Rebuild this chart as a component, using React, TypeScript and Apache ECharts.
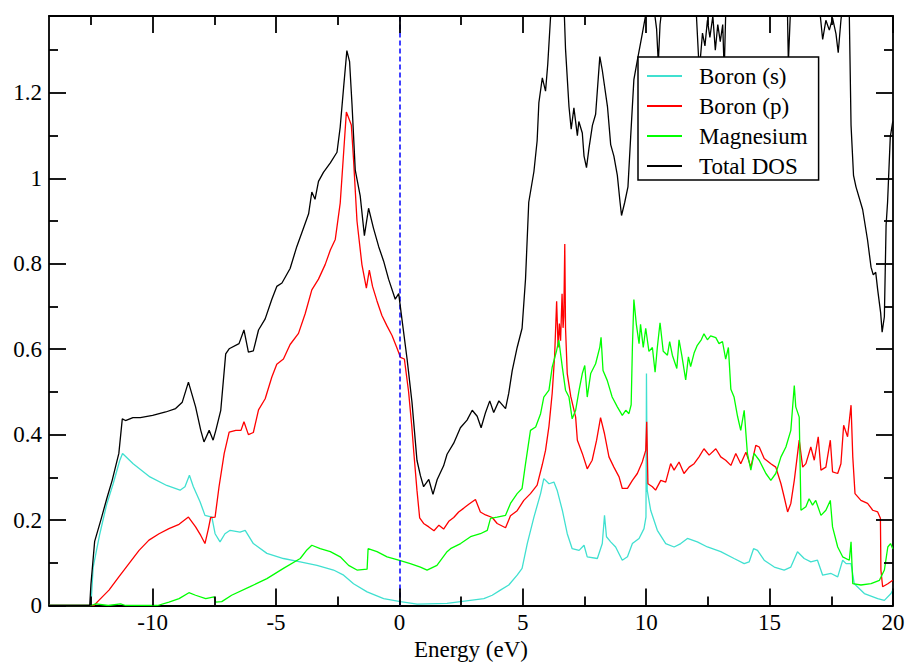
import React, { useEffect, useRef } from "react";
import * as echarts from "echarts";

const seriesNames = ["Boron (s)", "Boron (p)", "Magnesium", "Total DOS"];
const seriesColors = ["#40e0d0", "#ff0000", "#00ff00", "#000000"];
const xMajorTicks = [-10, -5, 0, 5, 10, 15, 20];
const xMinorTicks = [-12.5, -7.5, -2.5, 2.5, 7.5, 12.5, 17.5];
const yMajorTicks = [0, 0.2, 0.4, 0.6, 0.8, 1, 1.2];
const yMinorTicks = [0.1, 0.3, 0.5, 0.7, 0.9, 1.1, 1.3];
const fermiLevel = 0;
const xTitle = "Energy (eV)";

const boronS: number[][] = [
  [-14.2, 0], [-12.52, 0], [-12.48, 0.02], [-12.41, 0.09], [-12.14, 0.168], [-11.87, 0.235], [-11.6, 0.285],
  [-11.33, 0.34], [-11.22, 0.356], [-10.79, 0.332], [-10.11, 0.301], [-9.43, 0.281], [-8.89, 0.27], [-8.69, 0.278],
  [-8.51, 0.305], [-8.35, 0.278], [-8.08, 0.243], [-7.88, 0.211], [-7.6, 0.207], [-7.47, 0.168], [-7.27, 0.149],
  [-7.07, 0.168], [-6.86, 0.176], [-6.46, 0.172], [-6.25, 0.176], [-5.92, 0.145], [-5.37, 0.122], [-4.7, 0.11],
  [-4.02, 0.102], [-3.34, 0.094], [-2.67, 0.083], [-2.26, 0.071], [-1.86, 0.051], [-1.31, 0.032], [-0.64, 0.016],
  [0.04, 0.009], [0.72, 0.003], [1.93, 0.005], [3.42, 0.016], [3.76, 0.024], [4.09, 0.036], [4.43, 0.048],
  [4.77, 0.071], [4.97, 0.087], [5.18, 0.145], [5.45, 0.207], [5.72, 0.262], [5.85, 0.297], [6.06, 0.285],
  [6.26, 0.289], [6.39, 0.27], [6.6, 0.223], [6.8, 0.168], [7.0, 0.133], [7.28, 0.129], [7.48, 0.141], [7.61, 0.114],
  [8.02, 0.11], [8.22, 0.145], [8.31, 0.211], [8.39, 0.161], [8.56, 0.149], [8.76, 0.137], [9.03, 0.106],
  [9.24, 0.114], [9.44, 0.145], [9.71, 0.157], [9.91, 0.18], [9.99, 0.207], [10.01, 0.543], [10.04, 0.27],
  [10.18, 0.223], [10.45, 0.176], [10.79, 0.145], [11.13, 0.137], [11.4, 0.145], [11.67, 0.157], [12.07, 0.149],
  [12.48, 0.137], [13.02, 0.126], [13.56, 0.11], [13.97, 0.098], [14.17, 0.102], [14.35, 0.133], [14.51, 0.129],
  [14.78, 0.106], [15.19, 0.09], [15.59, 0.083], [15.86, 0.09], [16.13, 0.126], [16.4, 0.11], [16.67, 0.102],
  [16.94, 0.106], [17.15, 0.071], [17.49, 0.075], [17.76, 0.067], [17.96, 0.106], [18.1, 0.098], [18.3, 0.098],
  [18.43, 0.051], [18.84, 0.028], [19.38, 0.016], [19.65, 0.012], [19.92, 0.028], [19.99, 0.036],
];

const boronP: number[][] = [
  [-14.2, 0], [-12.38, 0], [-12.18, 0.012], [-11.77, 0.036], [-11.37, 0.067], [-10.96, 0.098], [-10.55, 0.129],
  [-10.15, 0.153], [-9.74, 0.168], [-9.34, 0.18], [-8.93, 0.19], [-8.55, 0.207], [-8.26, 0.184], [-8.05, 0.164],
  [-7.88, 0.145], [-7.74, 0.18], [-7.65, 0.206], [-7.47, 0.207], [-7.31, 0.278], [-7.1, 0.356], [-6.9, 0.406],
  [-6.63, 0.41], [-6.42, 0.41], [-6.3, 0.43], [-6.12, 0.4], [-5.92, 0.405], [-5.71, 0.458], [-5.44, 0.484],
  [-5.17, 0.535], [-4.97, 0.565], [-4.7, 0.577], [-4.43, 0.611], [-4.09, 0.637], [-3.82, 0.683], [-3.55, 0.739],
  [-3.28, 0.764], [-3.01, 0.798], [-2.8, 0.832], [-2.6, 0.857], [-2.4, 0.942], [-2.26, 1.061], [-2.15, 1.155],
  [-2.06, 1.142], [-1.95, 1.125], [-1.86, 1.044], [-1.72, 0.9], [-1.52, 0.798], [-1.34, 0.743], [-1.22, 0.785],
  [-1.09, 0.747], [-0.91, 0.713], [-0.71, 0.679], [-0.5, 0.654], [-0.3, 0.632], [-0.1, 0.603], [0.04, 0.581],
  [0.2, 0.577], [0.37, 0.501], [0.5, 0.42], [0.58, 0.36], [0.71, 0.27], [0.82, 0.205], [0.98, 0.192], [1.19, 0.184],
  [1.4, 0.175], [1.6, 0.188], [1.79, 0.179], [2.0, 0.197], [2.2, 0.206], [2.4, 0.219], [2.61, 0.228], [2.81, 0.237],
  [3.08, 0.248], [3.28, 0.219], [3.49, 0.212], [3.76, 0.206], [3.96, 0.192], [4.3, 0.182], [4.5, 0.21],
  [4.77, 0.222], [5.04, 0.246], [5.31, 0.262], [5.58, 0.282], [5.79, 0.33], [5.92, 0.363], [6.06, 0.42],
  [6.19, 0.497], [6.29, 0.586], [6.37, 0.712], [6.43, 0.604], [6.48, 0.66], [6.53, 0.62], [6.59, 0.73],
  [6.63, 0.65], [6.66, 0.676], [6.7, 0.846], [6.73, 0.65], [6.8, 0.543], [6.94, 0.49], [7.14, 0.441],
  [7.21, 0.387], [7.41, 0.356], [7.61, 0.32], [7.81, 0.34], [7.99, 0.387], [8.15, 0.44], [8.31, 0.402],
  [8.49, 0.348], [8.69, 0.324], [8.9, 0.301], [9.03, 0.274], [9.24, 0.274], [9.44, 0.293], [9.64, 0.309],
  [9.84, 0.336], [9.98, 0.363], [10.02, 0.43], [10.07, 0.285], [10.25, 0.278], [10.38, 0.27], [10.59, 0.293],
  [10.79, 0.289], [10.99, 0.332], [11.13, 0.317], [11.33, 0.336], [11.53, 0.309], [11.74, 0.324], [11.94, 0.332],
  [12.14, 0.348], [12.34, 0.367], [12.55, 0.352], [12.82, 0.367], [13.02, 0.348], [13.22, 0.34], [13.43, 0.328],
  [13.63, 0.356], [13.83, 0.332], [14.04, 0.359], [14.24, 0.324], [14.44, 0.375], [14.58, 0.371], [14.78, 0.344],
  [15.05, 0.332], [15.25, 0.324], [15.46, 0.285], [15.59, 0.254], [15.73, 0.219], [15.86, 0.239], [16.0, 0.293],
  [16.2, 0.387], [16.34, 0.324], [16.47, 0.332], [16.67, 0.371], [16.81, 0.34], [16.97, 0.395], [17.08, 0.317],
  [17.28, 0.324], [17.46, 0.387], [17.55, 0.313], [17.76, 0.309], [17.89, 0.332], [18.0, 0.422], [18.16, 0.395],
  [18.3, 0.469], [18.37, 0.348], [18.46, 0.262], [18.7, 0.246], [18.97, 0.239], [19.18, 0.223], [19.38, 0.219],
  [19.49, 0.204], [19.51, 0.083], [19.58, 0.044], [19.79, 0.051], [19.99, 0.059],
];

const magnesium: number[][] = [
  [-14.2, 0], [-12.5, 0], [-12.3, 0.004], [-11.8, 0], [-11.3, 0.004], [-11.1, 0], [-9.8, 0], [-9.34, 0.008],
  [-8.93, 0.016], [-8.53, 0.03], [-8.26, 0.024], [-7.85, 0.016], [-7.51, 0.02], [-7.44, 0.008], [-7.2, 0.009],
  [-6.8, 0.024], [-6.05, 0.044], [-5.37, 0.063], [-4.7, 0.087], [-4.02, 0.11], [-3.75, 0.13], [-3.55, 0.141],
  [-3.21, 0.133], [-2.8, 0.126], [-2.4, 0.114], [-2.06, 0.094], [-1.72, 0.083], [-1.31, 0.085], [-1.27, 0.133],
  [-0.91, 0.126], [-0.5, 0.114], [-0.03, 0.106], [0.44, 0.098], [0.85, 0.09], [1.12, 0.083], [1.52, 0.094],
  [1.93, 0.126], [2.07, 0.133], [2.48, 0.145], [2.88, 0.161], [3.28, 0.168], [3.56, 0.176], [3.69, 0.204],
  [3.96, 0.207], [4.3, 0.211], [4.5, 0.239], [4.77, 0.262], [4.97, 0.274], [5.11, 0.332], [5.31, 0.41],
  [5.52, 0.418], [5.72, 0.449], [5.85, 0.488], [6.06, 0.504], [6.19, 0.558], [6.37, 0.597], [6.46, 0.621],
  [6.6, 0.558], [6.73, 0.504], [6.87, 0.488], [7.0, 0.437], [7.14, 0.457], [7.28, 0.504], [7.41, 0.543],
  [7.51, 0.562], [7.61, 0.488], [7.75, 0.543], [7.95, 0.566], [8.12, 0.605], [8.17, 0.628], [8.25, 0.55],
  [8.42, 0.527], [8.62, 0.488], [8.83, 0.465], [9.03, 0.445], [9.17, 0.457], [9.3, 0.449], [9.39, 0.47],
  [9.44, 0.604], [9.5, 0.716], [9.6, 0.658], [9.71, 0.613], [9.77, 0.658], [9.88, 0.604], [9.98, 0.649],
  [10.11, 0.595], [10.25, 0.604], [10.36, 0.546], [10.45, 0.604], [10.56, 0.662], [10.69, 0.595], [10.86, 0.586],
  [10.95, 0.618], [11.06, 0.586], [11.24, 0.555], [11.33, 0.622], [11.44, 0.586], [11.6, 0.528], [11.71, 0.582],
  [11.8, 0.559], [11.94, 0.591], [12.07, 0.609], [12.23, 0.622], [12.34, 0.636], [12.48, 0.622], [12.61, 0.631],
  [12.82, 0.627], [12.95, 0.613], [13.09, 0.618], [13.22, 0.577], [13.33, 0.604], [13.43, 0.506], [13.56, 0.488],
  [13.7, 0.443], [13.83, 0.41], [13.97, 0.457], [14.1, 0.356], [14.24, 0.317], [14.37, 0.356], [14.58, 0.34],
  [14.85, 0.309], [15.05, 0.293], [15.25, 0.309], [15.46, 0.348], [15.66, 0.371], [15.86, 0.41], [16.0, 0.515],
  [16.06, 0.465], [16.2, 0.441], [16.27, 0.223], [16.47, 0.231], [16.6, 0.25], [16.74, 0.235], [16.87, 0.246],
  [17.08, 0.211], [17.28, 0.223], [17.46, 0.246], [17.55, 0.184], [17.76, 0.137], [17.96, 0.114], [18.23, 0.106],
  [18.3, 0.149], [18.37, 0.051], [18.7, 0.048], [19.11, 0.051], [19.45, 0.059], [19.65, 0.083], [19.79, 0.137],
  [19.9, 0.145], [19.99, 0.133],
];

const totalDos: number[][] = [
  [-14.2, 0], [-12.55, 0], [-12.5, 0.05], [-12.35, 0.15], [-12.1, 0.2], [-11.84, 0.254], [-11.64, 0.293],
  [-11.37, 0.356], [-11.23, 0.437], [-11.1, 0.433], [-10.8, 0.44], [-10.5, 0.44], [-10.0, 0.445], [-9.47, 0.453],
  [-9.07, 0.461], [-8.8, 0.476], [-8.55, 0.523], [-8.26, 0.465], [-8.05, 0.41], [-7.92, 0.383], [-7.71, 0.41],
  [-7.55, 0.387], [-7.44, 0.41], [-7.24, 0.457], [-7.04, 0.589], [-6.9, 0.601], [-6.5, 0.613], [-6.3, 0.645],
  [-6.12, 0.593], [-5.92, 0.596], [-5.71, 0.645], [-5.44, 0.671], [-5.17, 0.717], [-4.97, 0.747], [-4.76, 0.755],
  [-4.43, 0.789], [-4.16, 0.84], [-3.89, 0.883], [-3.68, 0.917], [-3.55, 0.968], [-3.42, 0.951], [-3.28, 0.993],
  [-3.08, 1.014], [-2.8, 1.036], [-2.53, 1.061], [-2.4, 1.12], [-2.26, 1.214], [-2.13, 1.299], [-2.02, 1.273],
  [-1.92, 1.171], [-1.79, 1.019], [-1.59, 0.959], [-1.42, 0.866], [-1.25, 0.93], [-1.05, 0.883], [-0.84, 0.84],
  [-0.64, 0.806], [-0.44, 0.764], [-0.17, 0.717], [-0.03, 0.73], [0.1, 0.671], [0.31, 0.577], [0.51, 0.475],
  [0.71, 0.34], [0.85, 0.304], [0.98, 0.278], [1.19, 0.295], [1.36, 0.26], [1.53, 0.295], [1.79, 0.327],
  [1.93, 0.354], [2.2, 0.38], [2.47, 0.416], [2.74, 0.434], [2.95, 0.457], [3.15, 0.443], [3.31, 0.416],
  [3.49, 0.452], [3.66, 0.479], [3.82, 0.452], [4.03, 0.479], [4.3, 0.461], [4.43, 0.497], [4.57, 0.55],
  [4.77, 0.604], [4.97, 0.649], [5.11, 0.765], [5.24, 0.944], [5.45, 1.016], [5.58, 1.088], [5.65, 1.177],
  [5.79, 1.235], [5.92, 1.204], [6.01, 1.267], [6.12, 1.374], [6.3, 1.5], [6.5, 1.52], [6.66, 1.42], [6.73, 1.303],
  [6.87, 1.168], [6.96, 1.115], [7.07, 1.165], [7.21, 1.1], [7.27, 1.133], [7.41, 1.106], [7.48, 1.052],
  [7.58, 1.025], [7.68, 1.07], [7.82, 1.124], [7.95, 1.15], [8.12, 1.285], [8.22, 1.253], [8.43, 1.168],
  [8.56, 1.079], [8.69, 1.052], [8.83, 1.007], [8.94, 0.944], [9.0, 0.913], [9.13, 0.944], [9.26, 0.98],
  [9.37, 1.097], [9.5, 1.231], [9.64, 1.276], [9.84, 1.338], [9.98, 1.383], [10.2, 1.45], [10.42, 1.35],
  [10.49, 1.27], [10.56, 1.36], [10.8, 1.48], [11.4, 1.5], [12.0, 1.42], [12.15, 1.25], [12.28, 1.34],
  [12.38, 1.31], [12.48, 1.37], [12.58, 1.33], [12.7, 1.38], [12.8, 1.3], [12.9, 1.36], [13.0, 1.32],
  [13.1, 1.36], [13.16, 1.25], [13.25, 1.45], [14.0, 1.5], [14.6, 1.48], [15.2, 1.5], [15.6, 1.45], [15.72, 1.4],
  [15.76, 1.27], [15.85, 1.4], [16.3, 1.48], [16.8, 1.45], [17.02, 1.4], [17.15, 1.325], [17.28, 1.37], [17.42, 1.347],
  [17.55, 1.375], [17.69, 1.338], [17.78, 1.294], [17.89, 1.37], [18.05, 1.45], [18.15, 1.45], [18.23, 1.38],
  [18.3, 1.124], [18.4, 1.007], [18.5, 0.98], [18.77, 0.927], [18.97, 0.855], [19.11, 0.792], [19.2, 0.774],
  [19.3, 0.78], [19.38, 0.739], [19.5, 0.685], [19.56, 0.64], [19.65, 0.676], [19.72, 0.89], [19.78, 0.944],
  [19.89, 1.097], [19.99, 1.133],
];

const seriesData = [boronS, boronP, magnesium, totalDos];

const FONT = "Liberation Serif";
const BLACK = "#000";
const X_MIN = -14.2;
const X_MAX = 20;
const Y_MIN = 0;
const Y_MAX = 1.38;
const GRID_W = 844;
const GRID_H = 589.5;
const MAJOR_PX = 17;
const MINOR_PX = 9;

// Inward frame ticks as markLine segments (coords in data units, lengths converted from pixels).
function buildTickMarkLines(): any[] {
  const xPerPx = (X_MAX - X_MIN) / GRID_W;
  const yPerPx = (Y_MAX - Y_MIN) / GRID_H;
  const segs: any[] = [];
  const seg = (a: number[], b: number[]) => segs.push([{ coord: a }, { coord: b }]);
  const xTicks = (vals: number[], px: number) => {
    const len = px * yPerPx;
    vals.forEach((v) => {
      seg([v, Y_MIN], [v, Y_MIN + len]);
      seg([v, Y_MAX], [v, Y_MAX - len]);
    });
  };
  const yTicks = (vals: number[], px: number) => {
    const len = px * xPerPx;
    vals.forEach((v) => {
      seg([X_MIN, v], [X_MIN + len, v]);
      seg([X_MAX, v], [X_MAX - len, v]);
    });
  };
  xTicks(xMajorTicks, MAJOR_PX);
  xTicks(xMinorTicks, MINOR_PX);
  yTicks(yMajorTicks, MAJOR_PX);
  yTicks(yMinorTicks, MINOR_PX);
  return segs;
}

export default function App() {
  const ref = useRef<HTMLDivElement>(null);

  useEffect(() => {
    document.body.style.margin = "0";
    if (!ref.current) return;
    const chart = echarts.init(ref.current, null, { renderer: "svg" });

    const textBase = { fontFamily: FONT, fontSize: 23, color: BLACK };
    const frameStyle = { color: BLACK, width: 1.8 };

    const xAxisDef = (position: string, showLabel: boolean, extra: any = {}) => ({
      type: "value",
      position,
      min: X_MIN,
      max: X_MAX,
      gridIndex: 0,
      axisLine: { show: true, onZero: false, lineStyle: { ...frameStyle } },
      axisTick: { show: false },
      axisLabel: showLabel ? { show: true, customValues: xMajorTicks, margin: 5, ...textBase } : { show: false },
      splitLine: { show: false },
      ...extra,
    });
    const yAxisDef = (position: string, showLabel: boolean) => ({
      type: "value",
      position,
      min: Y_MIN,
      max: Y_MAX,
      gridIndex: 0,
      axisLine: { show: true, onZero: false, lineStyle: { ...frameStyle } },
      axisTick: { show: false },
      axisLabel: showLabel ? { show: true, customValues: yMajorTicks, margin: 7, ...textBase } : { show: false },
      splitLine: { show: false },
    });

    chart.setOption({
      animation: false,
      backgroundColor: "#fff",
      textStyle: { fontFamily: FONT },
      grid: { left: 49, top: 16, width: GRID_W, height: GRID_H, containLabel: false, outerBoundsMode: "none" },
      legend: {
        data: seriesNames,
        orient: "vertical",
        left: 638,
        top: 57,
        icon: "rect",
        itemWidth: 35,
        itemHeight: 1.8,
        itemGap: 6,
        padding: [7, 11, 2, 9],
        backgroundColor: "#fff",
        borderColor: BLACK,
        borderWidth: 1.5,
        selectedMode: false,
        z: 20,
        textStyle: { ...textBase, lineHeight: 24, padding: [0, 0, 0, 12] },
      },
      xAxis: [
        xAxisDef("bottom", true, {
          name: xTitle,
          nameLocation: "middle",
          nameGap: 31,
          nameTextStyle: { ...textBase },
        }),
        xAxisDef("top", false),
      ],
      yAxis: [yAxisDef("left", true), yAxisDef("right", false)],
      series: seriesNames.map((name, i) => {
        const base: any = {
          name,
          type: "line",
          xAxisIndex: 0,
          yAxisIndex: 0,
          data: seriesData[i],
          symbol: "none",
          clip: true,
          lineStyle: { color: seriesColors[i], width: 1.3 },
          itemStyle: { color: seriesColors[i] },
          z: 2 + i,
        };
        if (i === 0) {
          base.markLine = {
            silent: true,
            symbol: ["none", "none"],
            label: { show: false },
            lineStyle: { color: "#0000ff", type: [5, 3], width: 1.5 },
            data: [{ xAxis: fermiLevel }],
          };
        }
        if (i === 3) {
          base.markLine = {
            silent: true,
            symbol: ["none", "none"],
            label: { show: false },
            emphasis: { disabled: true },
            lineStyle: { color: BLACK, type: "solid", width: 1.8, opacity: 1 },
            data: buildTickMarkLines(),
          };
        }
        return base;
      }),
    });

    return () => chart.dispose();
  }, []);

  return <div ref={ref} style={{ position: "absolute", left: 0, top: 0, width: 905, height: 662 }} />;
}
